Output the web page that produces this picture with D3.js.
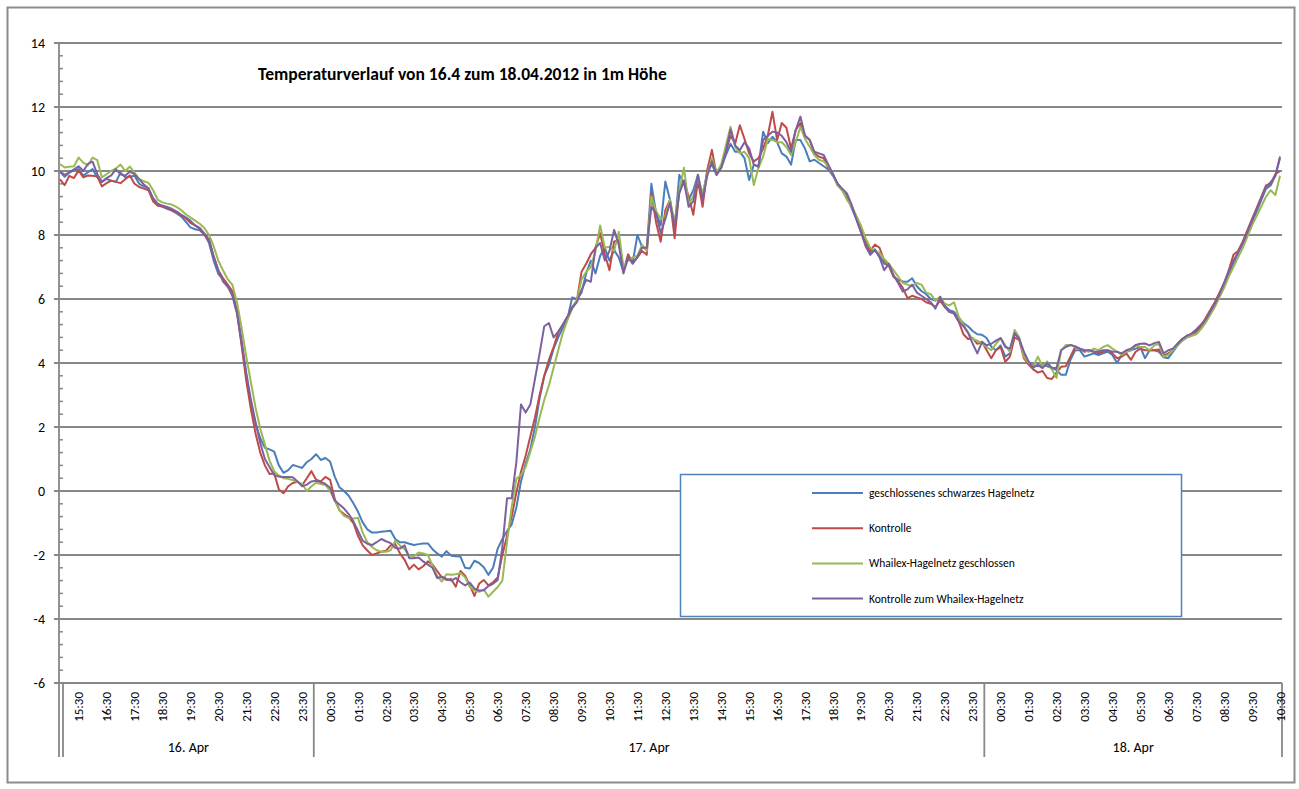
<!DOCTYPE html>
<html><head><meta charset="utf-8">
<script src="https://cdn.jsdelivr.net/npm/d3@7"></script>
<style>
html,body{margin:0;padding:0;background:#fff;}
svg text{font-family:Carlito,Calibri,Lato,"Open Sans",sans-serif;fill:#000;}
</style></head>
<body>
<svg id="chart" width="1299" height="789"></svg>
<script>
// ---------- data ----------
const title = "Temperaturverlauf von 16.4 zum 18.04.2012 in 1m Höhe";
const seriesNames = ["geschlossenes schwarzes Hagelnetz","Kontrolle","Whailex-Hagelnetz geschlossen","Kontrolle zum Whailex-Hagelnetz"];
const seriesColors = ["#4A7EBB","#BE4B48","#98B954","#7D60A0"];
const dayLabels = ["16. Apr","17. Apr","18. Apr"];
const yTicks = [-6,-4,-2,0,2,4,6,8,10,12,14];
const tickLabels = ["15:30","16:30","17:30","18:30","19:30","20:30","21:30","22:30","23:30",
 "00:30","01:30","02:30","03:30","04:30","05:30","06:30","07:30","08:30","09:30","10:30","11:30","12:30","13:30","14:30","15:30","16:30","17:30","18:30","19:30","20:30","21:30","22:30","23:30",
 "00:30","01:30","02:30","03:30","04:30","05:30","06:30","07:30","08:30","09:30","10:30"];

const blue = [9.98,9.82,9.95,10.02,10.06,9.85,9.96,10.06,9.8,9.66,9.75,9.7,9.66,9.95,9.8,9.82,9.85,9.6,9.52,9.46,
9.1,8.92,8.88,8.82,8.76,8.68,8.58,8.42,8.24,8.18,8.15,8.02,7.75,7.2,6.78,6.62,6.42,6.1,5.55,4.6,
3.6,2.75,2.1,1.65,1.35,1.3,1.23,0.8,0.57,0.65,0.81,0.77,0.72,0.9,1.0,1.15,0.97,1.03,0.92,0.45,
0.12,0.0,-0.15,-0.38,-0.65,-0.98,-1.2,-1.3,-1.3,-1.27,-1.26,-1.24,-1.5,-1.6,-1.6,-1.65,-1.69,-1.66,-1.64,-1.64,
-1.82,-1.95,-2.05,-1.88,-2.02,-2.04,-2.05,-2.4,-2.42,-2.18,-2.25,-2.38,-2.62,-2.4,-1.8,-1.5,-1.25,-1.05,-0.52,0.3,
0.85,1.3,2.0,2.9,3.6,3.95,4.45,4.8,5.1,5.4,6.05,6.0,6.2,6.8,7.2,6.8,7.35,7.59,7.2,7.53,
7.3,6.85,7.32,7.15,8.0,7.63,7.55,9.6,8.7,8.3,9.67,9.1,8.2,9.88,9.6,9.1,9.4,9.88,9.2,10.0,
10.2,9.88,10.1,10.5,10.85,10.6,10.6,10.4,9.72,10.2,10.15,11.23,10.87,11.07,10.9,10.55,10.45,10.2,10.97,10.97,
10.7,10.3,10.35,10.25,10.15,10.05,9.85,9.6,9.4,9.2,8.85,8.5,8.1,7.75,7.45,7.55,7.35,7.1,7.05,6.7,
6.6,6.55,6.54,6.65,6.4,6.25,6.15,6.0,5.95,6.05,5.8,5.65,5.6,5.4,5.25,5.15,5.0,4.9,4.88,4.78,
4.51,4.4,4.55,4.2,4.3,4.93,4.75,4.3,4.0,3.93,3.9,3.95,3.9,3.85,3.78,3.63,3.63,4.1,4.4,4.4,
4.2,4.25,4.3,4.25,4.3,4.35,4.25,4.0,4.25,4.35,4.4,4.45,4.5,4.15,4.4,4.4,4.35,4.18,4.15,4.35,
4.55,4.7,4.8,4.85,4.95,5.1,5.3,5.55,5.85,6.1,6.45,6.8,7.1,7.45,7.7,8.05,8.4,8.75,9.1,9.45,
9.55,9.85,10.4];

const red = [9.74,9.56,9.85,9.78,10.02,9.8,9.86,9.85,9.83,9.52,9.62,9.7,9.66,9.62,9.74,9.86,9.6,9.5,9.45,9.4,
9.05,8.92,8.9,8.84,8.78,8.7,8.62,8.52,8.38,8.3,8.2,8.0,7.85,7.35,6.9,6.65,6.45,6.25,5.62,4.55,
3.45,2.55,1.8,1.2,0.8,0.53,0.55,0.05,-0.07,0.15,0.25,0.29,0.18,0.4,0.62,0.35,0.3,0.44,0.35,-0.25,
-0.6,-0.72,-0.82,-1.0,-1.4,-1.7,-1.86,-2.0,-1.95,-1.9,-1.87,-1.7,-1.66,-1.95,-2.15,-2.45,-2.3,-2.45,-2.35,-2.2,
-2.3,-2.5,-2.7,-2.78,-2.75,-2.99,-2.5,-2.65,-2.95,-3.28,-2.9,-2.78,-2.95,-2.85,-2.7,-2.0,-1.4,-0.8,-0.05,0.6,
1.1,1.7,2.3,3.0,3.6,4.1,4.5,4.95,5.2,5.45,5.75,5.95,6.85,7.1,7.4,7.6,8.06,7.4,6.9,7.8,
7.84,6.85,7.4,7.12,7.3,7.5,7.38,9.3,8.4,7.79,8.78,9.1,7.9,9.4,9.7,9.2,8.63,9.7,8.88,10.03,
10.66,9.88,10.13,10.6,11.1,10.86,11.43,11.0,10.55,10.3,10.4,10.7,11.1,11.85,10.97,11.5,11.35,10.7,11.28,11.5,
11.1,10.97,10.55,10.45,10.4,10.1,9.9,9.55,9.4,9.15,8.9,8.55,8.2,7.8,7.5,7.7,7.6,7.2,7.05,6.7,
6.55,6.35,6.03,6.1,6.05,6.0,5.9,5.85,5.75,5.95,5.75,5.6,5.55,5.3,4.9,4.75,4.78,4.6,4.66,4.4,
4.15,4.4,4.5,4.04,4.2,4.8,4.72,4.15,3.95,3.8,3.7,3.75,3.53,3.5,3.7,3.88,3.9,4.2,4.5,4.45,
4.35,4.4,4.35,4.3,4.35,4.4,4.3,4.15,4.2,4.3,4.1,4.35,4.45,4.4,4.4,4.4,4.42,4.22,4.3,4.4,
4.6,4.75,4.85,4.9,5.0,5.15,5.4,5.65,5.9,6.2,6.5,6.9,7.38,7.5,7.8,8.15,8.5,8.85,9.2,9.55,
9.6,9.9,10.0];

const green = [10.22,10.11,10.13,10.15,10.42,10.26,10.18,10.42,10.34,9.8,9.9,10.0,10.08,10.2,10.0,10.14,9.95,9.75,9.68,9.63,
9.4,9.1,9.02,8.98,8.95,8.88,8.78,8.65,8.55,8.45,8.35,8.22,8.0,7.65,7.2,6.9,6.62,6.45,5.9,5.1,
4.2,3.4,2.6,1.95,1.45,0.95,0.62,0.48,0.4,0.38,0.34,0.28,0.22,0.0,0.15,0.26,0.22,0.19,0.0,-0.3,
-0.6,-0.78,-0.85,-0.86,-0.84,-1.3,-1.6,-1.75,-1.85,-1.9,-1.9,-1.85,-1.55,-1.7,-1.82,-2.02,-2.05,-1.92,-1.95,-2.0,
-2.33,-2.65,-2.83,-2.6,-2.62,-2.6,-2.56,-2.7,-3.0,-3.1,-3.15,-3.08,-3.3,-3.15,-3.0,-2.8,-1.6,-0.5,0.38,0.5,
0.75,1.22,1.7,2.3,2.85,3.3,3.85,4.4,4.95,5.35,5.7,5.95,6.6,6.85,7.0,7.5,8.3,7.6,7.63,7.5,
8.1,7.0,7.2,7.3,7.35,7.7,7.5,9.2,8.75,8.5,8.6,9.1,8.4,9.4,10.1,8.95,9.2,9.8,9.3,9.9,
10.4,9.95,10.2,10.8,11.38,10.75,10.55,10.6,10.4,9.56,10.1,10.45,11.0,10.97,10.9,10.9,10.75,10.5,10.9,11.38,
11.0,10.76,10.5,10.35,10.3,10.15,9.9,9.55,9.4,9.1,8.9,8.6,8.3,7.9,7.6,7.5,7.45,7.25,7.1,6.9,
6.7,6.5,6.45,6.4,6.5,6.45,6.2,6.15,5.95,6.07,5.85,5.8,5.9,5.45,5.2,4.95,4.75,4.7,4.6,4.5,
4.4,4.6,4.78,4.55,4.35,5.03,4.8,4.2,4.0,3.9,4.2,3.9,4.05,3.8,3.53,4.4,4.56,4.56,4.52,4.45,
4.4,4.35,4.45,4.4,4.5,4.56,4.45,4.35,4.25,4.35,4.4,4.56,4.5,4.5,4.4,4.55,4.6,4.2,4.25,4.4,
4.55,4.7,4.8,4.85,4.9,5.05,5.25,5.5,5.75,6.05,6.35,6.7,7.0,7.3,7.6,7.95,8.3,8.6,8.9,9.2,
9.4,9.25,9.85];

const purple = [9.98,9.88,9.96,10.05,10.15,10.0,10.22,10.29,9.9,9.66,9.78,9.86,10.05,9.9,9.85,9.98,9.9,9.74,9.58,9.46,
9.15,8.98,8.92,8.88,8.82,8.74,8.64,8.55,8.45,8.3,8.22,8.05,7.85,7.3,6.9,6.55,6.38,6.15,5.6,4.7,
3.7,2.85,2.15,1.5,1.0,0.75,0.5,0.45,0.44,0.44,0.43,0.3,0.15,0.2,0.3,0.32,0.28,0.22,0.1,-0.3,
-0.42,-0.55,-0.72,-0.95,-1.25,-1.55,-1.65,-1.69,-1.6,-1.5,-1.57,-1.63,-1.78,-1.8,-1.7,-2.1,-2.1,-2.08,-2.2,-2.3,
-2.4,-2.72,-2.68,-2.75,-2.8,-2.72,-2.85,-2.95,-2.86,-3.05,-3.11,-3.1,-2.97,-2.9,-2.78,-1.75,-0.23,-0.23,0.9,2.7,
2.45,2.7,3.5,4.3,5.15,5.25,4.8,4.98,5.2,5.45,5.72,5.9,6.28,6.6,6.54,7.6,7.75,7.2,7.5,8.16,
7.7,6.8,7.3,7.1,7.32,7.6,7.6,8.88,8.68,8.06,8.5,9.0,8.26,9.3,9.7,8.88,9.05,9.88,9.1,9.85,
10.3,9.9,10.1,10.6,11.3,10.8,10.65,10.9,10.7,10.2,10.13,10.97,11.1,11.23,11.2,11.1,10.9,10.6,11.28,11.7,
11.1,10.97,10.6,10.55,10.5,10.2,9.9,9.6,9.45,9.3,8.95,8.5,8.1,7.65,7.38,7.53,7.3,6.9,7.1,6.75,
6.5,6.23,6.3,6.45,6.2,6.1,6.0,5.9,5.7,6.07,5.76,5.6,5.55,5.3,5.15,4.95,4.6,4.3,4.66,4.55,
4.6,4.7,4.78,4.5,4.45,4.93,4.75,4.35,4.05,3.85,3.95,3.84,4.0,3.85,3.84,4.4,4.5,4.56,4.52,4.45,
4.4,4.4,4.35,4.35,4.4,4.4,4.35,4.35,4.3,4.4,4.45,4.56,4.6,4.61,4.55,4.62,4.66,4.3,4.4,4.45,
4.6,4.75,4.85,4.92,5.05,5.2,5.35,5.6,5.85,6.15,6.5,6.85,7.2,7.45,7.75,8.1,8.45,8.8,9.15,9.5,
9.65,9.85,10.45];

const seriesValues = [blue, red, green, purple];

// categories: 10-minute readings, 16.04 14:50 .. 18.04 10:30
const categories = d3.range(blue.length).map(i => "c" + i);

// ---------- layout ----------
const svg = d3.select("#chart");
const plotLeft = 59, plotRight = 1282, plotTop = 43, plotBottom = 683;
const x = d3.scalePoint().domain(categories).range([60, 1280]);
const y = d3.scaleLinear().domain([-6, 14]).range([plotBottom, plotTop]);
const gridColor = "#878787";

// outer border
svg.append("rect").attr("x", 7.5).attr("y", 7.5).attr("width", 1287).attr("height", 775)
  .attr("fill", "#fff").attr("stroke", "#8c8c8c").attr("stroke-width", 2);

// gridlines
svg.append("g").selectAll("line").data(yTicks).join("line")
  .attr("x1", plotLeft - 5).attr("x2", plotRight)
  .attr("y1", d => y(d)).attr("y2", d => y(d))
  .attr("stroke", gridColor).attr("stroke-width", 1.8);

// y axis line (extends into category area)
svg.append("line").attr("x1", plotLeft).attr("x2", plotLeft).attr("y1", plotTop).attr("y2", 757)
  .attr("stroke", gridColor).attr("stroke-width", 1.8);

// minor ticks
const minor = d3.range(-6, 14.001, 0.4).filter(v => Math.abs(v/2 - Math.round(v/2)) > 1e-6);
svg.append("g").selectAll("line").data(minor).join("line")
  .attr("x1", plotLeft).attr("x2", plotLeft + 4)
  .attr("y1", d => y(d)).attr("y2", d => y(d))
  .attr("stroke", gridColor).attr("stroke-width", 1.5);

// y labels
svg.append("g").selectAll("text").data(yTicks).join("text")
  .attr("x", 45).attr("y", d => y(d)).attr("dy", "0.35em")
  .attr("text-anchor", "end").style("font-size", "14px")
  .text(d => d);

// day separators
const step = x.step();
const daySep = [63, x(categories[54]) + step/2, x(categories[198]) + step/2, plotRight];
svg.append("g").selectAll("line").data(daySep).join("line")
  .attr("x1", d => d).attr("x2", d => d).attr("y1", plotBottom).attr("y2", 757)
  .attr("stroke", gridColor).attr("stroke-width", 1.8);

// time tick labels (every 6th category starting at 15:30)
svg.append("g").selectAll("text").data(tickLabels).join("text")
  .attr("transform", (d, i) => `translate(${x(categories[4 + 6*i])},692) rotate(-90)`)
  .attr("dy", "0.35em").attr("text-anchor", "end").style("font-size", "13px")
  .text(d => d);

// day labels
svg.append("g").selectAll("text").data(dayLabels).join("text")
  .attr("x", (d, i) => (daySep[i] + daySep[i+1]) / 2).attr("y", 747).attr("dy", "0.35em")
  .attr("text-anchor", "middle").style("font-size", "14px")
  .text(d => d);

// series lines
const line = d3.line().x((d, i) => x(categories[i])).y(d => y(d));
svg.append("g").selectAll("path").data(seriesValues).join("path")
  .attr("d", d => line(d)).attr("fill", "none")
  .attr("stroke", (d, i) => seriesColors[i]).attr("stroke-width", 2)
  .attr("stroke-linejoin", "round");

// title
const t = svg.append("text").attr("x", 258).attr("y", 74).attr("dy", "0.35em")
  .style("font-size", "14px").style("font-weight", "bold").text(title);
const tl = t.node().getComputedTextLength();
t.style("font-size", (14 * 409 / tl).toFixed(2) + "px");

// legend
const lg = svg.append("g");
lg.append("rect").attr("x", 680.5).attr("y", 474.5).attr("width", 501).attr("height", 142)
  .attr("fill", "#fff").attr("stroke", "#4F81BD").attr("stroke-width", 1.5);
const rows = lg.selectAll("g").data(seriesNames).join("g")
  .attr("transform", (d, i) => `translate(0,${493 + i*35.2})`);
rows.append("line").attr("x1", 812).attr("x2", 863).attr("y1", 0).attr("y2", 0)
  .attr("stroke", (d, i) => seriesColors[i]).attr("stroke-width", 2);
rows.append("text").attr("x", 869).attr("y", 0).attr("dy", "0.35em")
  .style("font-size", "11.5px").text(d => d);
</script>
</body></html>
